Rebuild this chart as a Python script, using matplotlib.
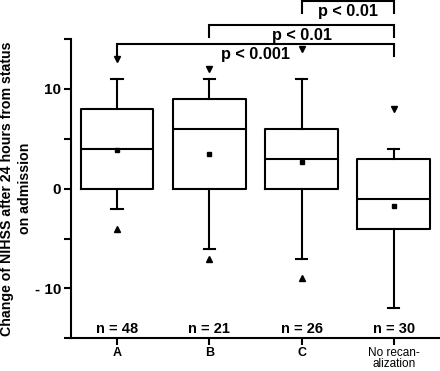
import matplotlib
matplotlib.use("Agg")
import matplotlib.pyplot as plt

plt.rcParams['font.family'] = ['Liberation Sans', 'DejaVu Sans']

groups = ["A", "B", "C", "No recan-\nalization"]
n_labels = ["n = 48", "n = 21", "n = 26", "n = 30"]
q1 = [0, 0, 0, -4]
median = [4, 6, 3, -1]
q3 = [8, 9, 6, 3]
whislo = [-2, -6, -7, -12]
whishi = [11, 11, 11, 4]
means = [3.9, 3.5, 2.7, -1.7]
max_vals = [13, 12, 14, 8]
min_vals = [-4, -7, -9, None]

brackets = [(1, 4, 14.5, "p < 0.001"), (2, 4, 16.4, "p < 0.01"), (3, 4, 18.8, "p < 0.01")]

fig = plt.figure(figsize=(4.40, 3.71), dpi=100)
ax = fig.add_axes([0.161, 0.088, 0.839, 0.807])

stats = []
for i in range(len(groups)):
    stats.append(dict(med=median[i], q1=q1[i], q3=q3[i], whislo=whislo[i],
                      whishi=whishi[i], mean=means[i], fliers=[]))
pos = list(range(1, len(groups) + 1))
ax.bxp(stats, positions=pos, widths=0.79, showmeans=True, showfliers=False,
       boxprops=dict(color='black', linewidth=1.5),
       medianprops=dict(color='black', linewidth=1.5),
       whiskerprops=dict(color='black', linewidth=1.5),
       capprops=dict(color='black', linewidth=1.5),
       capwidths=0.12,
       meanprops=dict(marker='s', markerfacecolor='black', markeredgecolor='black', markersize=3.3))

for i, v in enumerate(max_vals):
    ax.plot(pos[i], v, marker='v', color='black', markersize=4.3)
for i, v in enumerate(min_vals):
    if v is not None:
        ax.plot(pos[i], v, marker='^', color='black', markersize=4.3)

for i, t in enumerate(n_labels):
    ax.text(pos[i], -14.1, t, ha='center', va='center', fontsize=10.5, fontweight='bold')

for (a, b, y, t) in brackets:
    ax.plot([a, a, b, b], [y - 1.2, y, y, y - 1.2], color='black', linewidth=1.5,
            clip_on=False, solid_joinstyle='miter')
    ax.text((a + b) / 2, y - 0.3, t, ha='center', va='top', fontsize=11.7, fontweight='bold')

ax.set_xlim(0.5, 4.5)
ax.set_ylim(-15, 15)
ax.set_yticks([-15, -10, -5, 0, 5, 10, 15])
ax.set_yticklabels(["", "- 10", "", "0", "", "10", ""], fontsize=11, fontweight='bold')
ax.set_xticks(pos)
ax.set_xticklabels(groups)
for i, lab in enumerate(ax.get_xticklabels()):
    if i < 3:
        lab.set_fontsize(9)
        lab.set_fontweight('bold')
    else:
        lab.set_fontsize(8.5)
        lab.set_linespacing(0.95)
ax.spines['top'].set_visible(False)
ax.spines['right'].set_visible(False)
ax.spines['left'].set_linewidth(1.5)
ax.spines['bottom'].set_linewidth(1.5)
ax.tick_params(axis='both', width=1.5, length=5, direction='out')
ax.tick_params(axis='y', pad=2)
ax.tick_params(axis='x', pad=1)
ax.set_ylabel("Change of NIHSS after 24 hours from status\non admission", fontsize=10.2,
              fontweight='bold', labelpad=2, linespacing=1.35)

fig.savefig("out.png", dpi=100)
